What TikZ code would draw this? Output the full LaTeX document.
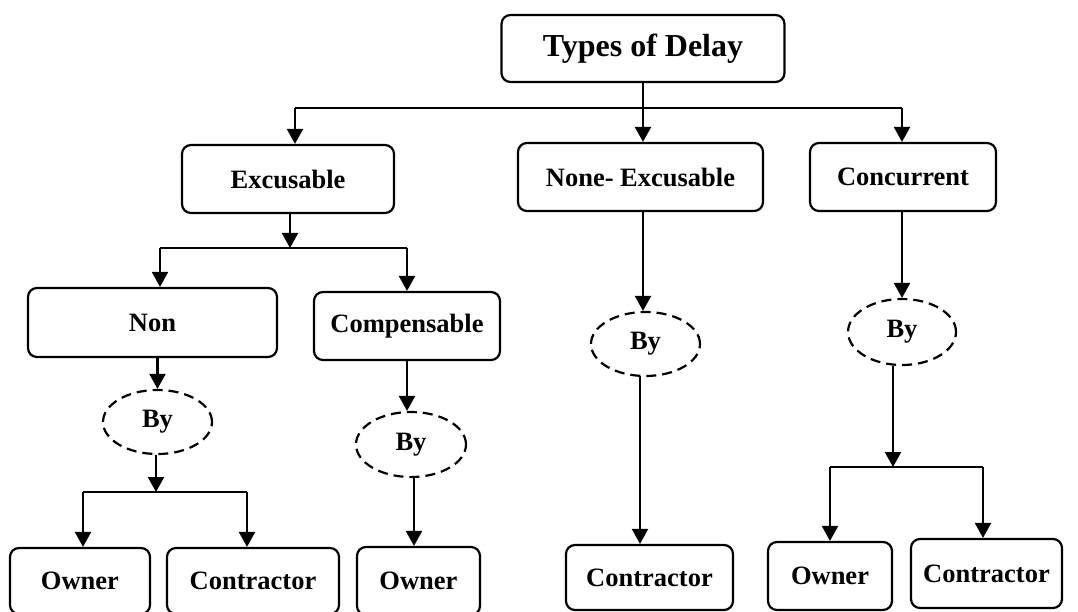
\documentclass[tikz,border=0pt]{standalone}
\usepackage{fontspec}
\setmainfont{Liberation Serif}
\usetikzlibrary{arrows.meta,shapes.geometric}
\begin{document}
\begin{tikzpicture}[x=1pt,y=-1pt,
  box/.style={draw,line width=2.2pt,rounded corners=9pt,inner sep=0pt,
    font=\bfseries\fontsize{26.5}{30}\selectfont},
  bigbox/.style={box,font=\bfseries\fontsize{32}{36}\selectfont},
  byell/.style={draw,ellipse,dash pattern=on 10pt off 6pt,line width=2.2pt,inner sep=0pt,
    font=\bfseries\fontsize{26.5}{30}\selectfont},
  arr/.style={line width=2.2pt,-{Triangle[width=16pt,length=15pt]}},
  ln/.style={line width=2.2pt}]
\useasboundingbox (0,0) rectangle (1078,612);
\fill[white] (0,0) rectangle (1078,612);

% boxes
\node[bigbox,minimum width=283pt,minimum height=67pt] (top) at (643,48.5) {Types of Delay};
\node[box,minimum width=212pt,minimum height=68pt] (exc) at (288,179) {Excusable};
\node[box,minimum width=245pt,minimum height=68pt] (nonexc) at (640.5,177) {None- Excusable};
\node[box,minimum width=186pt,minimum height=68pt] (conc) at (903,177) {Concurrent};
\node[box,minimum width=249pt,minimum height=69pt] (non) at (152.5,322.5) {Non};
\node[box,minimum width=186pt,minimum height=68pt] (comp) at (407,326) {Compensable};

\node[byell,minimum width=109pt,minimum height=64pt] (by1) at (157.5,422) {By};
\node[byell,minimum width=110pt,minimum height=65pt] (by2) at (411,444.5) {By};
\node[byell,minimum width=109pt,minimum height=64pt] (by3) at (645.5,344) {By};
\node[byell,minimum width=108pt,minimum height=66pt] (by4) at (902,332) {By};

\node[box,minimum width=140pt,minimum height=66pt] (owner1) at (80,581) {Owner};
\node[box,minimum width=172pt,minimum height=66pt] (contr1) at (253,581) {Contractor};
\node[box,minimum width=123pt,minimum height=68pt] (owner2) at (418.5,581) {Owner};
\node[box,minimum width=167pt,minimum height=65pt] (contr2) at (649.5,577.5) {Contractor};
\node[box,minimum width=124pt,minimum height=68pt] (owner3) at (830,576) {Owner};
\node[box,minimum width=151pt,minimum height=69pt] (contr3) at (986.5,573.5) {Contractor};

% top level
\coordinate (jtL) at (295,108);
\coordinate (jtR) at (902,108);
\draw[arr] (top.south) -- (top.south |- nonexc.north);
\draw[ln] (jtL) -- (jtR);
\draw[arr] (jtL) -- (jtL |- exc.north);
\draw[arr] (jtR) -- (jtR |- conc.north);

% excusable
\coordinate (je) at (290,248);
\coordinate (jeL) at (160,248);
\coordinate (jeR) at (407,248);
\draw[arr] (je |- exc.south) -- (je);
\draw[ln] (jeL) -- (jeR);
\draw[arr] (jeL) -- (jeL |- non.north);
\draw[arr] (jeR) -- (jeR |- comp.north);

% non
\draw[arr] (by1.north |- non.south) -- (by1.north);
\coordinate (jn) at (156,492);
\coordinate (jnL) at (83,492);
\coordinate (jnR) at (247,492);
\draw[arr] (jn |- by1.south) -- (jn);
\draw[ln] (jnL) -- (jnR);
\draw[arr] (jnL) -- (jnL |- owner1.north);
\draw[arr] (jnR) -- (jnR |- contr1.north);

% compensable
\draw[arr] (comp.south) -- (comp.south |- by2.north);
\coordinate (jc) at (414,477);
\draw[arr] (jc) -- (jc |- owner2.north);

% none-excusable
\draw[arr] (nonexc.south -| top.south) -- (top.south |- by3.north);
\coordinate (jx) at (640,376);
\draw[arr] (jx) -- (jx |- contr2.north);

% concurrent
\draw[arr] (conc.south -| jtR) -- (jtR |- by4.north);
\coordinate (jk) at (893,467);
\coordinate (jkL) at (830,467);
\coordinate (jkR) at (983,467);
\draw[arr] (jk |- by4.south) -- (jk);
\draw[ln] (jkL) -- (jkR);
\draw[arr] (jkL) -- (jkL |- owner3.north);
\draw[arr] (jkR) -- (jkR |- contr3.north);
\end{tikzpicture}
\end{document}
